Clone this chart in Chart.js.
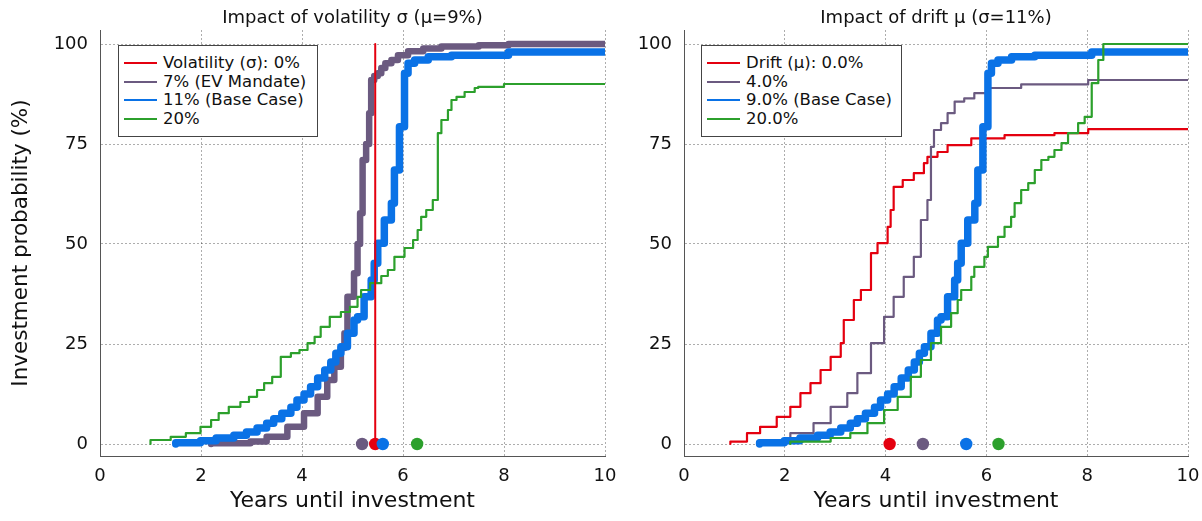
<!DOCTYPE html>
<html>
<head>
<meta charset="utf-8">
<script src="https://cdn.jsdelivr.net/npm/chart.js@4.4.1/dist/chart.umd.min.js"></script>
<style>
  html, body { margin: 0; padding: 0; background: #fff; }
  body { width: 1202px; height: 521px; position: relative; overflow: hidden; font-family: "DejaVu Sans", sans-serif; }
  .cv { position: absolute; top: 0; }
  .title { position: absolute; top: 6px; font-size: 18px; color: #111; text-align: center; white-space: nowrap; }
  .legend { position: absolute; top: 45px; height: 92px; border: 1px solid #444; background: #fff; box-sizing: border-box; padding-top: 8px; }
  .legend .row { height: 18.5px; line-height: 18.5px; font-size: 16.5px; color: #111; white-space: nowrap; display: flex; align-items: center; }
  .legend .sw { display: inline-block; width: 33px; height: 2px; margin-left: 5px; margin-right: 6px; }
</style>
</head>
<body>
<canvas id="c1" class="cv" style="left:0px" width="620" height="521"></canvas>
<canvas id="c2" class="cv" style="left:600px" width="602" height="521"></canvas>
<div class="title" id="t1" style="left:100px; width:505px;"></div>
<div class="title" id="t2" style="left:684px; width:504px;"></div>
<div class="legend" id="lg1" style="left:118px; width:200px;"></div>
<div class="legend" id="lg2" style="left:701px; width:201px;"></div>
<script>
// ---------- data ----------
const titles = ["Impact of volatility σ (μ=9%)", "Impact of drift μ (σ=11%)"];
const xTitle = "Years until investment";
const yTitle = "Investment probability (%)";
const volLabels = ["Volatility (σ): 0%", "7% (EV Mandate)", "11% (Base Case)", "20%"];
const driftLabels = ["Drift (μ): 0.0%", "4.0%", "9.0% (Base Case)", "20.0%"];
const yTicks = [0, 25, 50, 75, 100];

// Base case (σ=11%, μ=9%) — appears in both panels
const baseX = [1.5, 1.99, 2.3, 2.65, 2.9, 3.11, 3.3, 3.44, 3.6, 3.78, 3.9, 4.04, 4.17, 4.31, 4.45, 4.57, 4.67, 4.77, 4.9, 5.03, 5.1, 5.23, 5.37, 5.43, 5.5, 5.63, 5.77, 5.83, 5.93, 6.03, 6.1, 6.23, 6.5, 6.96, 8.09, 10];
const baseY = [0, 0.3, 0.8, 1.5, 2.2, 3, 4, 5.2, 6.3, 7.7, 9.2, 11, 12.5, 14.3, 16.5, 18.5, 20.5, 22.7, 24.3, 27.7, 31, 31.8, 36.8, 41, 45.2, 50.2, 56, 60.2, 68.5, 79.3, 92.7, 95.2, 96, 96.8, 97.2, 98];

// Volatility panel
const vol0X = [5.45, 5.45];
const vol0Y = [0, 100];
const vol7X = [2.2, 2.98, 3.3, 3.71, 4.04, 4.31, 4.5, 4.64, 4.77, 4.84, 4.9, 5.03, 5.1, 5.15, 5.2, 5.27, 5.33, 5.37, 5.43, 5.5, 5.57, 5.65, 5.77, 5.9, 6.1, 6.4, 6.76, 7.5, 8.09, 10];
const vol7Y = [0, 0.2, 0.6, 1.8, 4.3, 7.7, 11.8, 16, 19.3, 24, 27.7, 36.8, 42.7, 50, 57.7, 71, 75, 82.7, 91, 92, 92.7, 94, 95.2, 96, 97.2, 98.2, 98.9, 99.4, 99.7, 100];
const vol20X = [1.0, 1.4, 1.7, 1.99, 2.2, 2.35, 2.55, 2.78, 2.95, 3.11, 3.25, 3.41, 3.58, 3.78, 3.95, 4.11, 4.25, 4.37, 4.55, 4.77, 4.95, 5.1, 5.17, 5.35, 5.57, 5.7, 5.83, 6.03, 6.2, 6.29, 6.36, 6.46, 6.59, 6.69, 6.76, 6.89, 6.96, 7.06, 7.22, 7.42, 7.49, 8.0, 10];
const vol20Y = [0, 1, 1.8, 2.7, 4.3, 6, 7.7, 9.3, 10.5, 11.8, 13.5, 15.2, 16.8, 21.8, 22.7, 23.5, 25.2, 26.8, 29.3, 31.8, 33, 34.3, 36.8, 38.5, 40.2, 42, 43.5, 46.8, 49, 51, 53.5, 56.8, 58.5, 61, 77.7, 81, 83.5, 86, 86.8, 88, 89, 89.3, 90];
const volDotX = [5.45, 5.19, 5.6, 6.28];

// Drift panel
const drift0X = [0.92, 1.25, 1.51, 1.84, 2.11, 2.31, 2.51, 2.71, 2.91, 3.11, 3.17, 3.37, 3.51, 3.71, 3.84, 4.04, 4.1, 4.16, 4.34, 4.56, 4.76, 4.83, 5.03, 5.23, 5.7, 6.36, 7.35, 8.02, 10];
const drift0Y = [0, 0.6, 2.7, 4.3, 6.8, 9.3, 12.7, 15.2, 18.5, 21.8, 25.2, 31, 36, 38.5, 47.7, 50.2, 54.3, 58.5, 64.3, 66, 67.7, 70.2, 71.8, 73, 74.7, 76.4, 77.2, 77.7, 78.7];
const drift4X = [1.5, 2.11, 2.57, 2.91, 3.24, 3.44, 3.71, 3.97, 4.16, 4.36, 4.56, 4.7, 4.83, 4.9, 4.96, 5.1, 5.23, 5.37, 5.56, 5.76, 6.03, 6.69, 8.02, 10];
const drift4Y = [0, 1, 2.7, 5.2, 9.3, 12.7, 17.7, 25.2, 31.8, 36.8, 41.8, 46.8, 56, 61, 74.3, 78.5, 80.2, 82.7, 85.6, 86.4, 87.7, 89, 89.9, 91];
const drift20X = [2.11, 2.91, 3.3, 3.64, 3.97, 4.24, 4.5, 4.7, 4.9, 5.1, 5.3, 5.43, 5.5, 5.7, 5.76, 5.96, 6.03, 6.23, 6.36, 6.49, 6.56, 6.69, 6.83, 6.96, 7.09, 7.23, 7.35, 7.49, 7.62, 7.82, 7.95, 8.09, 8.22, 8.32, 8.42, 10];
const drift20Y = [0, 0.6, 1.5, 2.7, 5.2, 8.5, 11.8, 16.8, 21, 25.2, 29.3, 32.7, 36, 38.5, 41.8, 44.3, 46.8, 49.3, 51.8, 54.3, 56.8, 60.2, 63.5, 65.2, 68.5, 71, 71.8, 73.5, 75.2, 77.7, 80.2, 81.8, 90.2, 96, 100, 100];
const driftDotX = [4.08, 4.74, 5.6, 6.24];

// ---------- styling ----------
const colors = ['#e4000f', '#6b5a80', '#0a72e6', '#2ca02c'];
const FONT = '"DejaVu Sans", sans-serif';

function pts(xs, ys) { return xs.map((x, i) => ({ x: x, y: ys[i] })); }

function lineDs(label, xs, ys, color, width, order) {
  return {
    type: 'line', label: label, data: pts(xs, ys),
    borderColor: color, backgroundColor: color, borderWidth: width,
    stepped: 'after', pointRadius: 0, fill: false, tension: 0,
    borderJoinStyle: 'round', borderCapStyle: 'round', order: order
  };
}
function dotDs(xs) {
  return {
    type: 'scatter', label: '_dots', data: xs.map(x => ({ x: x, y: 0 })),
    pointRadius: 6.2, pointHoverRadius: 6.2, pointBorderWidth: 0,
    pointBackgroundColor: colors.slice(0, xs.length), showLine: false, order: 0
  };
}

function makeChart(id, datasets, showYTitle, yAxisWidth, padRight) {
  return new Chart(document.getElementById(id), {
    type: 'line',
    data: { datasets: datasets },
    options: {
      responsive: false, animation: false, maintainAspectRatio: false,
      layout: { padding: { top: 30, left: 0, right: padRight, bottom: 0 } },
      plugins: { legend: { display: false }, title: { display: false }, tooltip: { enabled: false } },
      scales: {
        x: {
          type: 'linear', min: 0, max: 10,
          ticks: { stepSize: 2, color: '#111', font: { family: FONT, size: 18 }, padding: 10, maxRotation: 0 },
          grid: { color: 'rgba(0,0,0,0.32)', drawTicks: false },
          border: { color: '#555', width: 1, dash: [2, 2] },
          title: { display: true, text: xTitle, color: '#111', font: { family: FONT, size: 22 }, padding: { top: 0, bottom: 7 } },
          afterFit: s => { s.height = 65; s.paddingLeft = 0; s.paddingRight = 0; }
        },
        y: {
          type: 'linear', min: -3, max: 103.5,
          afterBuildTicks: s => { s.ticks = yTicks.map(v => ({ value: v })); },
          ticks: { color: '#111', font: { family: FONT, size: 18 }, padding: 12 },
          grid: { color: 'rgba(0,0,0,0.32)', drawTicks: false },
          border: { color: '#555', width: 1, dash: [2, 2] },
          title: { display: showYTitle, text: yTitle, color: '#111', font: { family: FONT, size: 21.5 }, padding: { top: 9, bottom: 0 } },
          afterFit: s => { s.width = yAxisWidth; s.paddingTop = 0; s.paddingBottom = 0; }
        }
      }
    }
  });
}

const volSets = [
  lineDs(volLabels[0], vol0X, vol0Y, colors[0], 2, 1),
  lineDs(volLabels[1], vol7X, vol7Y, colors[1], 6.5, 4),
  lineDs(volLabels[2], baseX, baseY, colors[2], 7.5, 3),
  lineDs(volLabels[3], vol20X, vol20Y, colors[3], 2.2, 2),
  dotDs(volDotX)
];
const driftSets = [
  lineDs(driftLabels[0], drift0X, drift0Y, colors[0], 2.2, 4),
  lineDs(driftLabels[1], drift4X, drift4Y, colors[1], 2.2, 3),
  lineDs(driftLabels[2], baseX, baseY, colors[2], 7.5, 2),
  lineDs(driftLabels[3], drift20X, drift20Y, colors[3], 2.2, 1),
  dotDs(driftDotX)
];

makeChart('c1', volSets, true, 100, 15);
makeChart('c2', driftSets, false, 84, 14);

// titles & legends (HTML text)
document.getElementById('t1').textContent = titles[0];
document.getElementById('t2').textContent = titles[1];
function buildLegend(id, labels) {
  const el = document.getElementById(id);
  labels.forEach((lab, i) => {
    const row = document.createElement('div');
    row.className = 'row';
    const sw = document.createElement('span');
    sw.className = 'sw';
    sw.style.background = colors[i];
    const tx = document.createElement('span');
    tx.textContent = lab;
    row.appendChild(sw); row.appendChild(tx);
    el.appendChild(row);
  });
}
buildLegend('lg1', volLabels);
buildLegend('lg2', driftLabels);
</script>
</body>
</html>
